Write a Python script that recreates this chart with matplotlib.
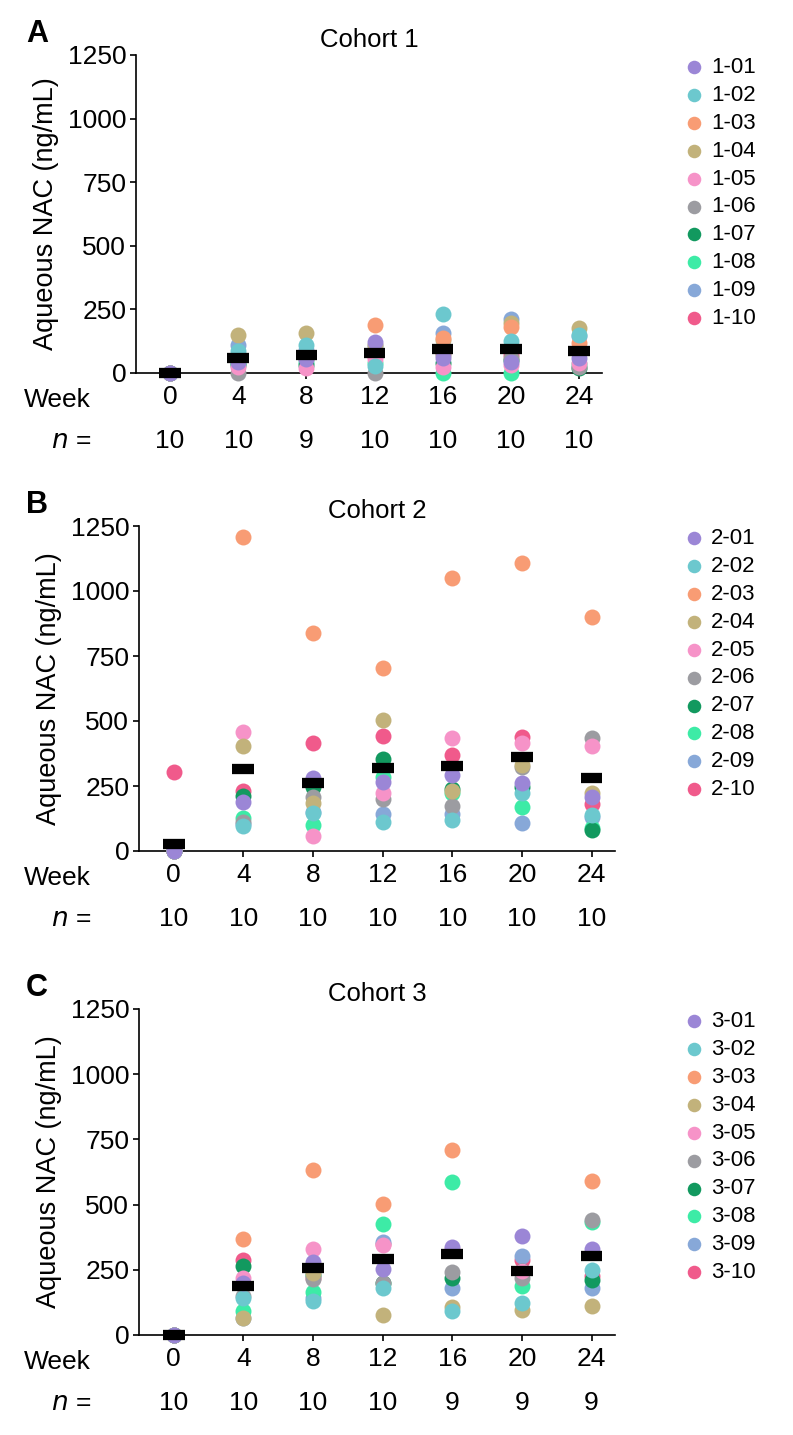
import matplotlib.pyplot as plt
import numpy as np

plt.rcParams['font.family'] = ['Liberation Sans', 'DejaVu Sans']

W, H = 793, 1435
nan = np.nan

weeks = [0, 4, 8, 12, 16, 20, 24]
subject_ids = ['01', '02', '03', '04', '05', '06', '07', '08', '09', '10']
subject_colors = ['#9b86d6', '#6cc8ce', '#f89c74', '#c2b27b', '#f693c8',
                  '#9c9ca1', '#12995f', '#3deba6', '#87a8d8', '#f05a8b']

# values per subject (rows) and week (columns), ng/mL
cohort1_values = [
    [0, 45, 55, 120, 60, 45, 60],
    [0, 85, 111, 28, 233, 125, 150],
    [0, 60, 60, 190, 137, 180, 118],
    [0, 148, 157, 110, 130, 198, 178],
    [0, 25, 20, 55, 22, 30, 40],
    [0, 0, nan, 0, 70, 60, 25],
    [0, 30, 30, 70, 40, 50, 20],
    [0, 40, 45, 40, 0, 0, 35],
    [0, 112, 90, 105, 157, 212, 145],
    [0, 55, 60, 65, 80, 70, 100],
]
cohort1_means = [0, 60, 71, 79, 94, 95, 88]
cohort1_n = [10, 10, 9, 10, 10, 10, 10]

cohort2_values = [
    [0, 187, 279, 266, 291, 260, 208],
    [0, 95, 147, 113, 119, 222, 140],
    [0, 1208, 839, 704, 1049, 1109, 901],
    [0, 405, 186, 503, 232, 332, 225],
    [0, 456, 58, 222, 435, 414, 403],
    [0, 112, 209, 199, 173, 322, 433],
    [0, 213, 245, 352, 240, 248, 82],
    [0, 128, 100, 286, 225, 170, 90],
    [0, 105, 150, 142, 141, 106, 130],
    [302, 232, 415, 443, 368, 439, 182],
]
cohort2_means = [26, 314, 260, 321, 328, 362, 280]
cohort2_n = [10, 10, 10, 10, 10, 10, 10]

cohort3_values = [
    [0, 198, 281, 252, 339, 380, 330],
    [0, 143, 130, 179, 93, 124, 248],
    [0, 370, 631, 502, 710, nan, 592],
    [0, 67, 237, 75, 109, 95, 113],
    [0, 217, 329, 345, 330, 245, nan],
    [0, 150, 215, 200, 243, 217, 442],
    [0, 265, 230, 198, 217, 245, 212],
    [0, 93, 164, 425, 585, 188, 432],
    [0, 65, 140, 355, 179, 303, 180],
    [0, 288, 220, 350, nan, 288, 228],
]
cohort3_means = [0, 186, 258, 292, 312, 245, 303]
cohort3_n = [10, 10, 10, 10, 9, 9, 9]

panels = [
    ('A', 'Cohort 1', '1', cohort1_values, cohort1_means, cohort1_n, (136, 602, 55, 373)),
    ('B', 'Cohort 2', '2', cohort2_values, cohort2_means, cohort2_n, (139, 615, 526, 851)),
    ('C', 'Cohort 3', '3', cohort3_values, cohort3_means, cohort3_n, (139, 615, 1009, 1335)),
]

fig = plt.figure(figsize=(W / 100, H / 100), dpi=100)

for letter, title, prefix, values, means, counts, (x0, x1, y0, y1) in panels:
    ax = fig.add_axes([x0 / W, 1 - y1 / H, (x1 - x0) / W, (y1 - y0) / H])
    handles = {}
    # later subjects drawn first so 01 ends on top
    for i in reversed(range(len(subject_ids))):
        handles[i] = ax.scatter(weeks, values[i], s=132, color=subject_colors[i],
                                linewidths=0, zorder=3, clip_on=False,
                                label=prefix + '-' + subject_ids[i])
    wk = np.array(weeks)
    ax.hlines(means, wk - 0.63, wk + 0.63, colors='black', lw=7.4,
              zorder=5, clip_on=False)

    ax.set_xlim(-2, 25.35)
    ax.set_ylim(0, 1250)
    ax.set_xticks(weeks)
    ax.set_yticks([0, 250, 500, 750, 1000, 1250])
    for s in ['top', 'right']:
        ax.spines[s].set_visible(False)
    for s in ['left', 'bottom']:
        ax.spines[s].set_linewidth(1.2)
    ax.tick_params(axis='both', direction='out', length=4, width=1.2,
                   labelsize=19, pad=3)
    ax.tick_params(axis='x', pad=5)
    ax.set_ylabel('Aqueous NAC (ng/mL)', fontsize=19.5, labelpad=6)
    ax.set_title(title, fontsize=18.5, pad=6)

    fig.text(37 / W, 1 - (y0 - 21) / H, letter, fontsize=22, fontweight='bold',
             ha='center', va='center')
    fig.text(91 / W, 1 - (y1 + 27) / H, 'Week', fontsize=19, ha='right', va='center')
    fig.text(91 / W, 1 - (y1 + 68) / H, r'$\it{n}$ =', fontsize=19, ha='right', va='center')
    for w, c in zip(weeks, counts):
        ax.annotate(str(c), xy=(w, 0), xycoords=('data', 'axes fraction'),
                    xytext=(0, -68 * 0.72), textcoords='offset points',
                    ha='center', va='center', fontsize=19)

    ax.legend([handles[i] for i in range(len(subject_ids))],
              [prefix + '-' + s for s in subject_ids],
              loc='upper left', bbox_to_anchor=(681 / W, 1 - (y0 + 2) / H),
              bbox_transform=fig.transFigure, frameon=False, fontsize=16,
              handletextpad=0.15, handlelength=1.2, labelspacing=0.31,
              borderpad=0, borderaxespad=0, markerscale=0.85)

fig.savefig('out.png', dpi=100)
